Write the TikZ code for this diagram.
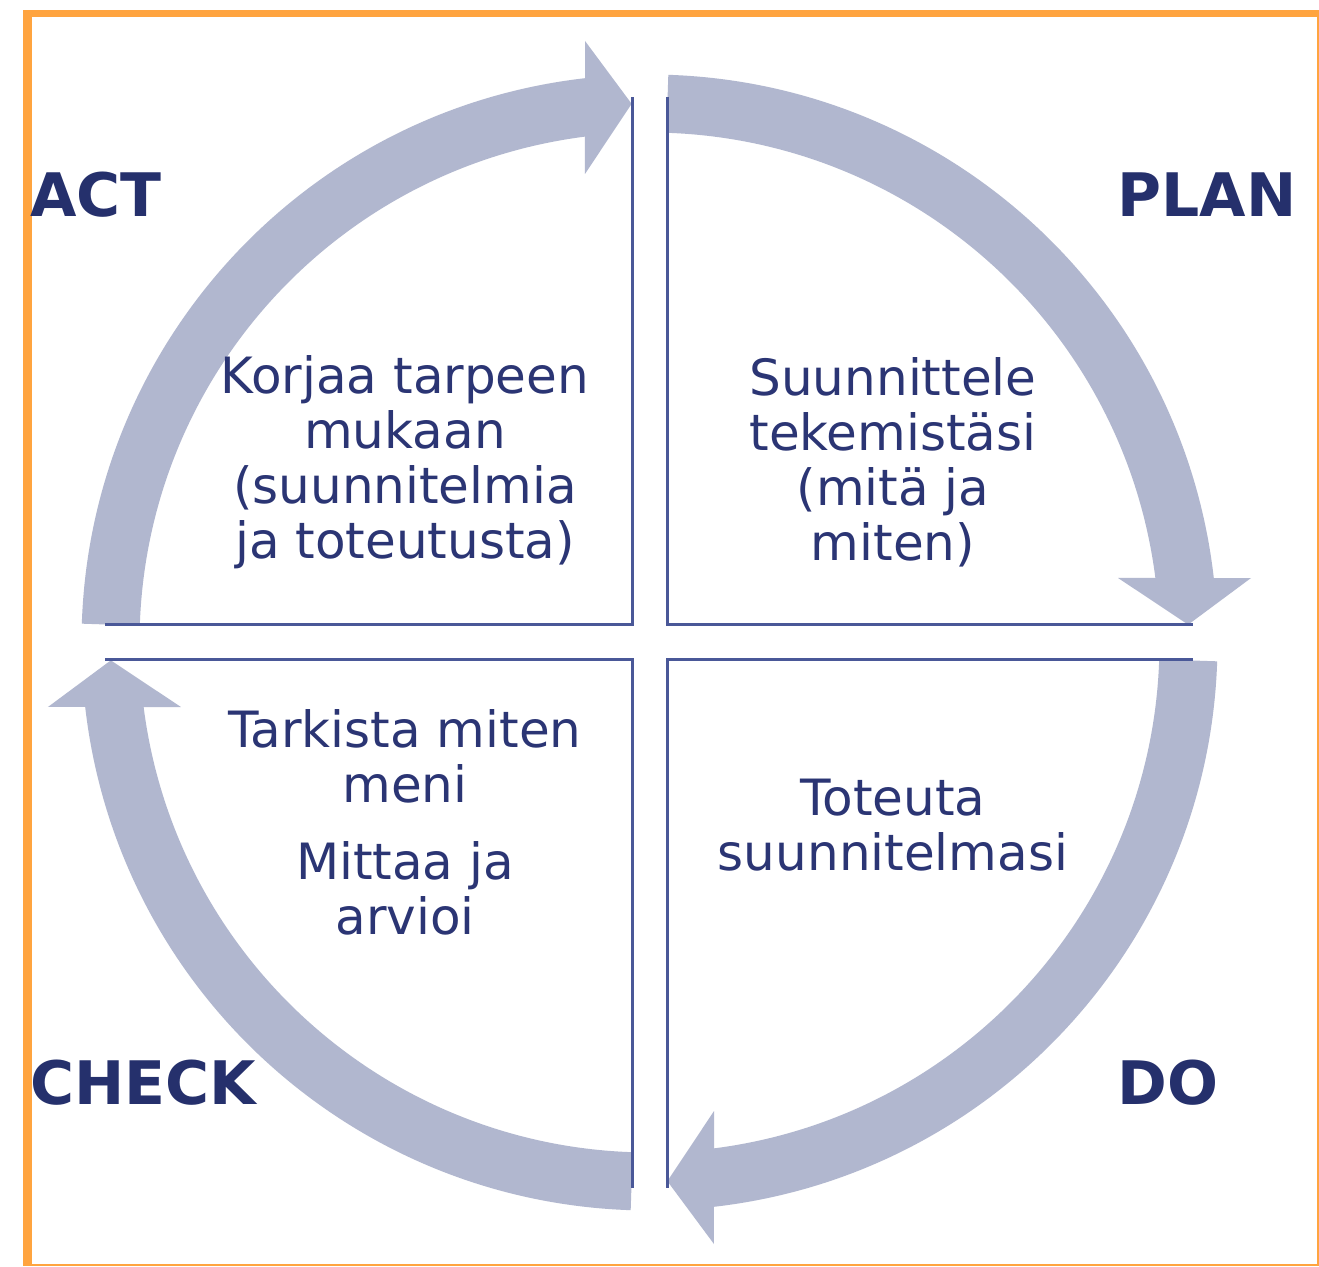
\documentclass[tikz,border=0pt]{standalone}
\usepackage{fontspec}
\setmainfont{DejaVu Sans}
\definecolor{ringblue}{HTML}{B1B7CF}
\definecolor{linenavy}{HTML}{4A5898}
\definecolor{textnavy}{HTML}{2B3574}
\definecolor{labelnavy}{HTML}{25306C}
\definecolor{frameorange}{HTML}{FFA43F}
\tikzset{
  phase/.style={font=\fontsize{30}{32}\selectfont\bfseries, text=labelnavy, anchor=west, inner sep=0pt},
  body/.style={font=\fontsize{25}{27.5}\selectfont, text=textnavy, align=center, inner sep=0pt},
  quad/.style={draw=linenavy, line width=1.5pt},
}
\begin{document}
\begin{tikzpicture}[x=0.5pt,y=0.5pt]
    \useasboundingbox (0,0) rectangle (1319,1266);
    % frame
    \fill[frameorange] (23,0) rectangle (1319,1256);
    \fill[white] (32,2) rectangle (1317,1249);

    % cycle arrows
    \begin{scope}[shift={(649.5,623.5)}]
    \fill[ringblue] (178.1:568) arc[start angle=178.1, end angle=96.52, radius=568] -- (96.12:605) -- (91.9:539) -- (97.84:473) -- (97.27:510) arc[start angle=97.27, end angle=178.1, radius=510] -- cycle;
    \fill[ringblue] (88.1:568) arc[start angle=88.1, end angle=6.52, radius=568] -- (6.12:605) -- (1.9:539) -- (7.84:473) -- (7.27:510) arc[start angle=7.27, end angle=88.1, radius=510] -- cycle;
    \fill[ringblue] (-1.9:568) arc[start angle=-1.9, end angle=-83.48, radius=568] -- (-83.88:605) -- (-88.1:539) -- (-82.16:473) -- (-82.73:510) arc[start angle=-82.73, end angle=-1.9, radius=510] -- cycle;
    \fill[ringblue] (-91.9:568) arc[start angle=-91.9, end angle=-173.48, radius=568] -- (-173.88:605) -- (-178.1:539) -- (-172.16:473) -- (-172.73:510) arc[start angle=-172.73, end angle=-91.9, radius=510] -- cycle;
    \end{scope}

    % quadrants
    \draw[quad] (105,641) -- (632,641) -- (632,1169);
    \draw[quad] (667,1169) -- (667,641) -- (1193,641);
    \draw[quad] (1193,606) -- (667,606) -- (667,78);
    \draw[quad] (105,606) -- (632,606) -- (632,78);

    \node[phase] (act) at (30,1071) {ACT};
    \node[phase] (plan) at (1117,1071) {PLAN};
    \node[phase] (check) at (30,183) {CHECK};
    \node[phase] (do) at (1117,183) {DO};

    \node[body] (actbody) at (405,804) {Korjaa tarpeen\\mukaan\\(suunnitelmia\\ja toteutusta)};
    \node[body] (planbody) at (893,804) {Suunnittele\\tekemistäsi\\(mitä ja\\miten)};
    \node[body] (checkbody) at (405,444) {Tarkista miten\\meni\\[11pt]Mittaa ja\\arvioi};
    \node[body] (dobody) at (893,441) {Toteuta\\suunnitelmasi};
\end{tikzpicture}
\end{document}
